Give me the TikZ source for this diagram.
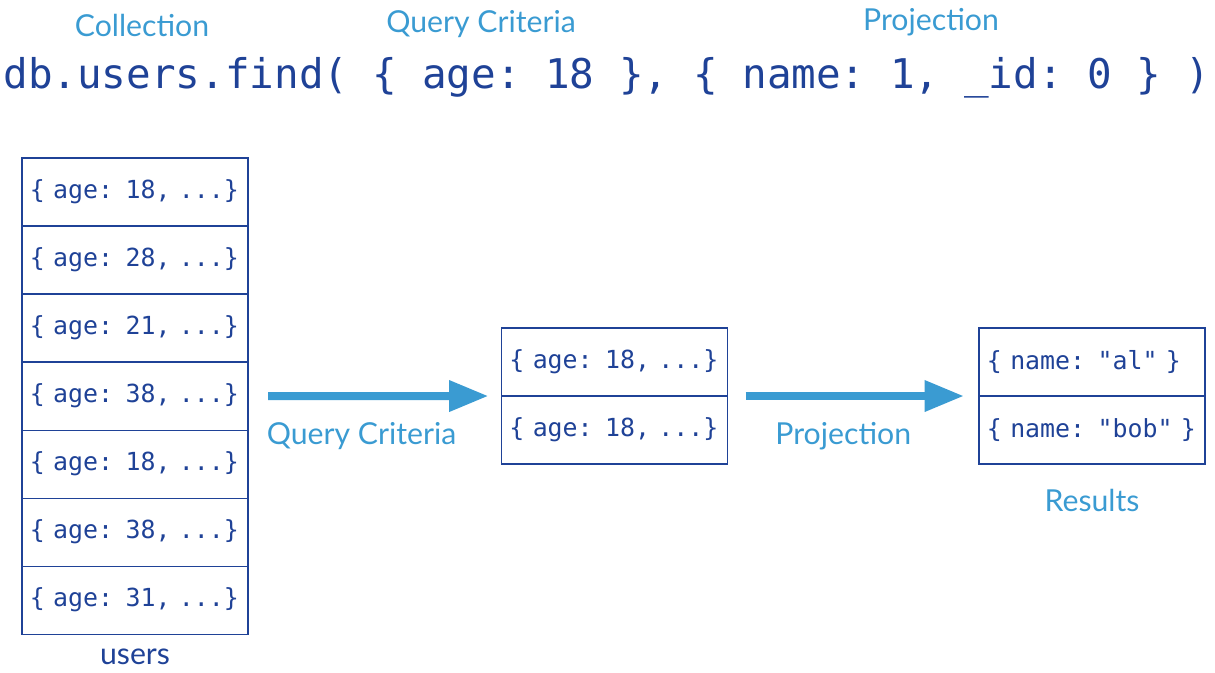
\documentclass[tikz,border=0pt]{standalone}
\usepackage{fontspec}
\setmainfont{Lato}
\setmonofont{DejaVu Sans Mono}
\usetikzlibrary{positioning,arrows.meta}
\definecolor{docblue}{HTML}{1F4297}
\definecolor{tagblue}{HTML}{3A9BD2}

\begin{document}
\begin{tikzpicture}[x=0.025cm, y=-0.025cm, node distance=0pt,
    >={Triangle[length=28pt,width=21pt]}]
    \tikzstyle{doc}=[draw=docblue, line width=0.8pt, text=docblue,
      font=\ttfamily\fontsize{17.7}{20}\selectfont, align=left,
      text width=5.25cm, inner xsep=0.2cm, inner ysep=0pt,
      minimum height=1.7cm, outer sep=0pt]
    \tikzstyle{tag}=[text=tagblue, font=\fontsize{21.5}{25}\selectfont]
    \tikzstyle{flow}=[->, draw=tagblue, line width=5.7pt]
    \useasboundingbox (0,0) rectangle (1215,672);

    % the call
    \node[text=docblue, font=\ttfamily\fontsize{29.1}{33}\selectfont, anchor=base]
      (call) at (607,88) {db.users.find( \{ age: 18 \}, \{ name: 1, \_id: 0 \} )};
    \node[tag] (coll) at (142,25) {Collection};
    \node[tag] (crit) at (481,24) {Query Criteria};
    \node[tag] (proj) at (931,22) {Projection};

    % collection
    \node[doc] (u1) at (135,192) {\{ age: 18, ...\}};
    \node[doc, below=of u1] (u2) {\{ age: 28, ...\}};
    \node[doc, below=of u2] (u3) {\{ age: 21, ...\}};
    \node[doc, below=of u3] (u4) {\{ age: 38, ...\}};
    \node[doc, below=of u4] (u5) {\{ age: 18, ...\}};
    \node[doc, below=of u5] (u6) {\{ age: 38, ...\}};
    \node[doc, below=of u6] (u7) {\{ age: 31, ...\}};
    \node[text=docblue, font=\fontsize{21.5}{25}\selectfont, below=0.24cm of u7] (users) {users};

    % matching documents
    \node[doc] (m1) at (614.5,362) {\{ age: 18, ...\}};
    \node[doc, below=of m1] (m2) {\{ age: 18, ...\}};

    % projected results
    \node[doc] (r1) at (1092,362) {\{ name: "al" \}};
    \node[doc, below=of r1] (r2) {\{ name: "bob" \}};
    \node[tag, below=0.5cm of r2] (res) {Results};

    \draw[flow, shorten <=0.5cm, shorten >=0.325cm] (u4.east) -- (m2.north west)
      node[tag, midway, yshift=-1cm, xshift=-0.33cm] {Query Criteria};
    \draw[flow, shorten <=0.45cm, shorten >=0.375cm] (m2.north east) -- (r2.north west)
      node[tag, midway, yshift=-1cm, xshift=-0.25cm] {Projection};
\end{tikzpicture}
\end{document}
